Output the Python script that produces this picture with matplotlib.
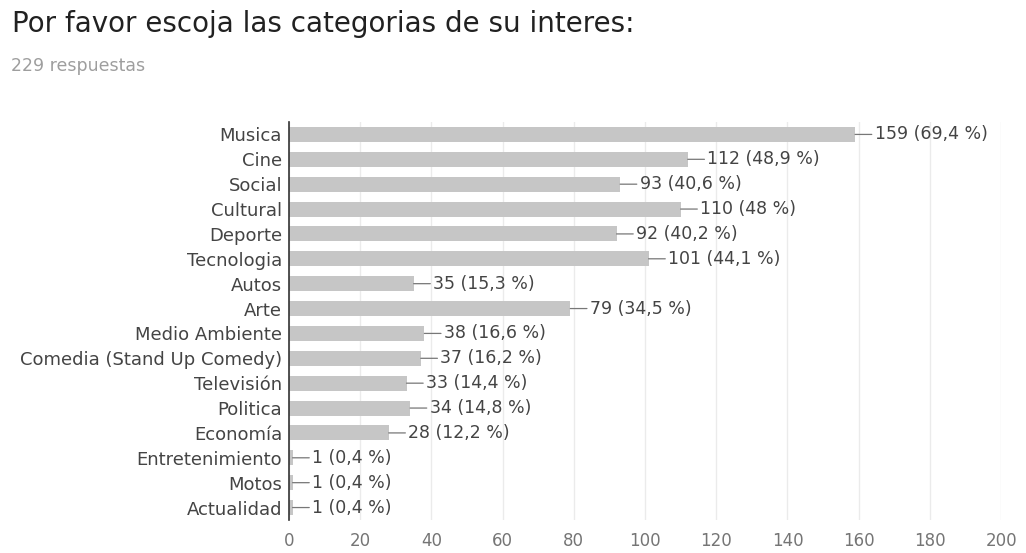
import matplotlib
matplotlib.use("Agg")
import matplotlib.pyplot as plt

categorias = ["Musica", "Cine", "Social", "Cultural", "Deporte", "Tecnologia",
              "Autos", "Arte", "Medio Ambiente", "Comedia (Stand Up Comedy)",
              "Televisión", "Politica", "Economía", "Entretenimiento", "Motos",
              "Actualidad"]
respuestas = [159, 112, 93, 110, 92, 101, 35, 79, 38, 37, 33, 34, 28, 1, 1, 1]
total = 229
ticks_x = [0, 20, 40, 60, 80, 100, 120, 140, 160, 180, 200]

plt.rcParams['font.family'] = ['DejaVu Sans']

fig = plt.figure(figsize=(10.26, 5.53), dpi=100)
ax = fig.add_axes([0.2817, 0.0597, 0.6940, 0.7197])

y = list(range(len(categorias)))
ax.barh(y, respuestas, height=0.6, color="#c6c6c6", zorder=2)

for i, v in enumerate(respuestas):
    pct = round(v / total * 100, 1)
    txt = "{} ({:g} %)".format(v, pct).replace(".", ",")
    ax.annotate(txt, xy=(v, i), xytext=(14, 0), textcoords="offset points",
                ha="left", va="center", fontsize=12.5, color="#444444",
                arrowprops=dict(arrowstyle="-", color="#777777", lw=0.9,
                                shrinkA=0, shrinkB=0), zorder=3)

ax.set_xlim(0, 200)
ax.set_ylim(len(categorias) - 0.5, -0.5)
ax.set_yticks(y)
ax.set_yticklabels(categorias, fontsize=13, color="#444444")
ax.set_xticks(ticks_x)
ax.set_xticklabels([str(t) for t in ticks_x], fontsize=12, color="#757575")
ax.tick_params(axis="both", length=0)
ax.tick_params(axis="y", pad=5)
ax.tick_params(axis="x", pad=9)
ax.grid(axis="x", color="#ebebeb", lw=1, zorder=0)
for s in ["top", "right", "bottom"]:
    ax.spines[s].set_visible(False)
ax.spines["left"].set_color("#333333")
ax.spines["left"].set_linewidth(1.2)
ax.spines["left"].set_zorder(4)

fig.text(0.012, 0.9427, "Por favor escoja las categorias de su interes:",
         fontsize=20, color="#212121", va="baseline")
fig.text(0.011, 0.8716, "229 respuestas", fontsize=12.5, color="#9e9e9e",
         va="baseline")

fig.savefig("out.png", dpi=100)
